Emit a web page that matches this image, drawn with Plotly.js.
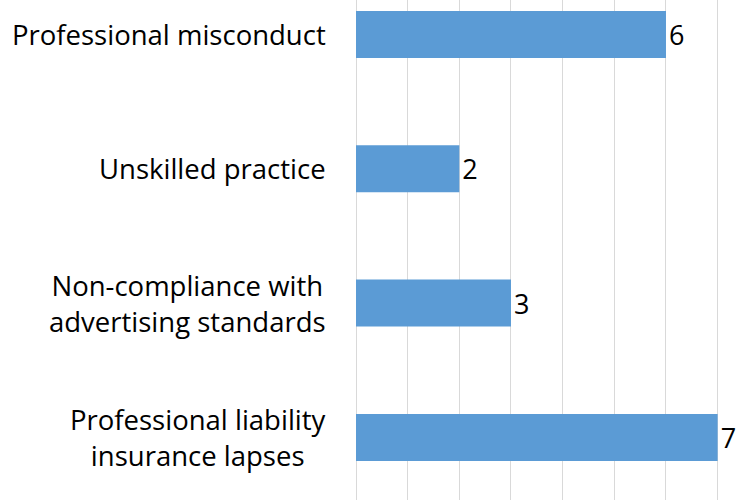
<!DOCTYPE html>
<html>
<head>
<meta charset="utf-8">
<script src="https://cdn.plot.ly/plotly-3.0.1.min.js"></script>
<style>html,body{margin:0;padding:0;background:#fff;}#chart{width:738px;height:500px;}</style>
</head>
<body>
<div id="chart"></div>
<script>
const categories = [
  "Professional misconduct",
  "Unskilled practice",
  "Non-compliance with<br>advertising standards",
  "Professional liability<br>insurance lapses"
];
const values = [6, 2, 3, 7];
const valueLabels = ["6", "2", "3", "7"];

const FONT = "Open Sans, sans-serif";

const trace = {
  type: "bar",
  orientation: "h",
  y: categories,
  x: values,
  text: valueLabels,
  textposition: "outside",
  cliponaxis: false,
  textfont: {family: FONT, size: 27, color: "#000"},
  marker: {color: "#5b9bd5", line: {width: 0}},
  width: 0.35,
  hoverinfo: "none"
};

const annotations = categories.map(c => ({
  xref: "paper", yref: "y",
  x: 0, y: c,
  xanchor: "right", yanchor: "middle",
  xshift: -28,
  align: "center",
  showarrow: false,
  text: c,
  font: {family: FONT, size: 27.5, color: "#000"}
}));

const layout = {
  width: 738,
  height: 500,
  margin: {l: 356, r: 0, t: 0, b: 0, pad: 0},
  paper_bgcolor: "#ffffff",
  plot_bgcolor: "#ffffff",
  showlegend: false,
  font: {family: FONT, size: 27.5, color: "#000"},
  annotations: annotations,
  xaxis: {
    range: [0, 7.394],
    dtick: 1,
    tick0: 0,
    showgrid: true,
    gridcolor: "#d9d9d9",
    gridwidth: 1,
    zeroline: true,
    zerolinecolor: "#d9d9d9",
    zerolinewidth: 1,
    showticklabels: false,
    ticks: "",
    fixedrange: true
  },
  yaxis: {
    type: "category",
    range: [3.466, -0.257],
    showgrid: false,
    zeroline: false,
    showline: false,
    showticklabels: false,
    ticks: "",
    fixedrange: true
  }
};

Plotly.newPlot("chart", [trace], layout, {displayModeBar: false, staticPlot: true});
</script>
</body>
</html>
